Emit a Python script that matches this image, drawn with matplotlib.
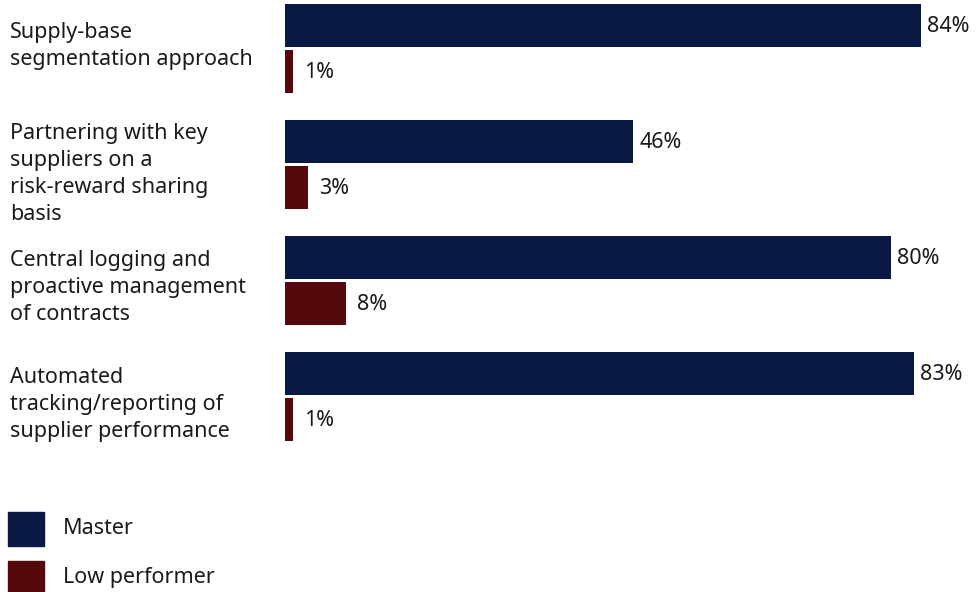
import matplotlib
matplotlib.use("Agg")
import matplotlib.pyplot as plt
from matplotlib.patches import Rectangle

plt.rcParams["font.family"] = ["Noto Sans", "DejaVu Sans"]

categories = [
    "Supply-base\nsegmentation approach",
    "Partnering with key\nsuppliers on a\nrisk-reward sharing\nbasis",
    "Central logging and\nproactive management\nof contracts",
    "Automated\ntracking/reporting of\nsupplier performance",
]
master = [84, 46, 80, 83]
low_performer = [1, 3, 8, 1]
series_names = ["Master", "Low performer"]

MASTER_COLOR = "#0a1944"
LOW_COLOR = "#540a0c"
TEXT_COLOR = "#1a1a1a"

# pixel baseline of the last line of each category label
label_baselines = [65, 220, 320, 437]

W, H = 977, 592
fig = plt.figure(figsize=(W / 100, H / 100), dpi=100)

# axes placed in pixel terms: bars start at x=285, 116px per group
ax = fig.add_axes([285 / W, 1 - 464 / H, 693 / W, 464 / H])
ax.set_xlim(0, 91.5)
ax.set_ylim(3.78, -0.22)
ax.axis("off")

off = 0.397
h = 0.37
for i, (m, lo) in enumerate(zip(master, low_performer)):
    ax.barh(i, m, height=h, color=MASTER_COLOR, align="center")
    ax.barh(i + off, lo, height=h, color=LOW_COLOR, align="center")
    ax.text(m + 0.8, i + 0.01, f"{m}%", va="center", ha="left",
            fontsize=15.5, color=TEXT_COLOR)
    ax.text(lo + 1.5, i + off + 0.01, f"{lo}%", va="center", ha="left",
            fontsize=15.5, color=TEXT_COLOR)
    fig.text(10 / W, 1 - label_baselines[i] / H, categories[i], ha="left",
             va="baseline", fontsize=15.5, color=TEXT_COLOR, linespacing=1.37)

# legend drawn by hand
for name, color, top in zip(series_names, [MASTER_COLOR, LOW_COLOR], [512, 561]):
    fig.patches.append(Rectangle((8 / W, 1 - (top + 34) / H), 36 / W, 34 / H,
                                 transform=fig.transFigure, color=color))
    fig.text(63 / W, 1 - (top + 17) / H, name, ha="left", va="center",
             fontsize=15.5, color=TEXT_COLOR)

fig.savefig("out.png", dpi=100)
